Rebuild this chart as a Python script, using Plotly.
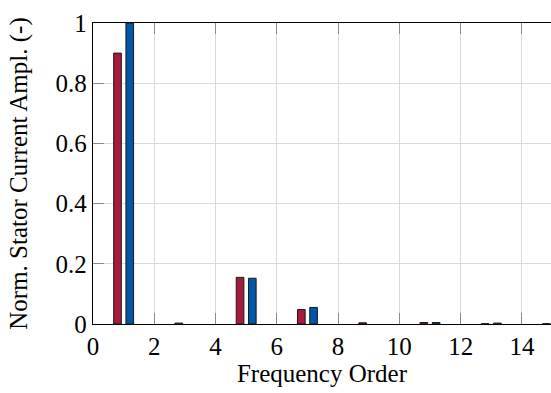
import plotly.graph_objects as go

# Harmonic orders and normalised stator current amplitudes
orders = [1, 3, 5, 7, 9, 11, 13, 15]
amp_a = [0.90, 0.003, 0.155, 0.048, 0.004, 0.005, 0.001, 0.001]
amp_b = [1.00, 0.0, 0.152, 0.055, 0.0, 0.005, 0.003, 0.0]

x_ticks = [0, 2, 4, 6, 8, 10, 12, 14]
y_ticks = [0, 0.2, 0.4, 0.6, 0.8, 1]
y_tick_text = ["0", "0.2", "0.4", "0.6", "0.8", "1"]

RED = "#A51A3D"
BLUE = "#0057A8"
FONT = "Liberation Serif"
FONT_SIZE = 25


def outline(values):
    # no outline for empty bins, so they stay invisible
    return [1 if v > 0 else 0 for v in values]


fig = go.Figure()
fig.add_trace(go.Bar(x=orders, y=amp_a,
                     marker=dict(color=RED, line=dict(color="#1a1a1a", width=outline(amp_a)))))
fig.add_trace(go.Bar(x=orders, y=amp_b,
                     marker=dict(color=BLUE, line=dict(color="#1a1a1a", width=outline(amp_b)))))

axis_common = dict(
    showline=True, linecolor="black", linewidth=1.3,
    showgrid=True, gridcolor="#d9d9d9", gridwidth=1,
    ticks="inside", ticklen=11, tickwidth=1.3, tickcolor="#8a8a8a",
    zeroline=False,
    tickfont=dict(family=FONT, size=FONT_SIZE, color="black"),
)

fig.update_layout(
    template="none",
    width=551, height=393,
    margin=dict(l=93, r=0, t=23, b=69, pad=0),
    paper_bgcolor="white", plot_bgcolor="white",
    font=dict(family=FONT, size=FONT_SIZE, color="black"),
    barmode="group", bargap=0.6, bargroupgap=0.375,
    showlegend=False,
    xaxis=dict(range=[0, 14.95], tickvals=x_ticks, mirror="allticks",
               title=dict(text="Frequency Order", standoff=2,
                          font=dict(family=FONT, size=FONT_SIZE, color="black")),
               **axis_common),
    yaxis=dict(range=[0, 1], tickvals=y_ticks, ticktext=y_tick_text, mirror=False,
               title=dict(text="Norm. Stator Current Ampl. (-)", standoff=20,
                          font=dict(family=FONT, size=FONT_SIZE, color="black")),
               **axis_common),
)

fig.write_html("out.html")
